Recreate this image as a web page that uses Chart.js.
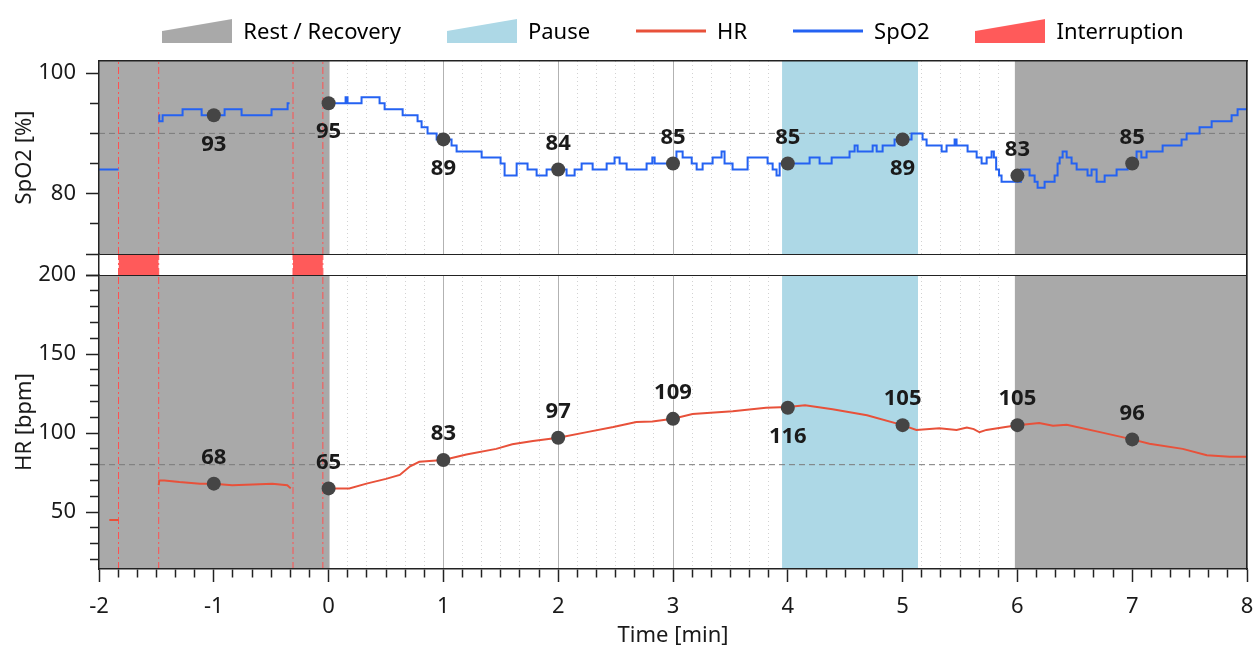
<!DOCTYPE html>
<html>
<head>
<meta charset="utf-8">
<title>SpO2 / HR</title>
<script src="https://cdn.jsdelivr.net/npm/chart.js@4.4.1/dist/chart.umd.min.js"></script>
<style>
  html, body { margin: 0; padding: 0; background: #fff; }
  #wrap { width: 1254px; height: 653px; }
</style>
</head>
<body>
<div id="wrap"><canvas id="chart"></canvas></div>
<script>
// all times in minutes, 0 = start of exercise
const restZones = [[-2, 0.01], [5.976, 8]];
const pauseZones = [[3.95, 5.135]];
const interruptions = [[-1.83, -1.48], [-0.31, -0.05]];

// SpO2 [%] as [minute, value], value holds until the next sample
const spo2Pre = [[-2, 84], [-1.83, 84]];
const spo2Rest = [[-1.48, 93], [-1.475, 92], [-1.446, 93], [-1.272, 94], [-1.106, 93], [-0.906, 94],
  [-0.758, 93], [-0.497, 94], [-0.357, 95], [-0.34, 95]];
const spo2Exercise = [[-0.04, 95], [0.148, 96], [0.165, 95], [0.287, 96], [0.444, 95], [0.488, 94],
  [0.645, 93], [0.775, 92], [0.81, 91], [0.862, 90], [0.941, 89], [1.071, 88], [1.115, 87], [1.333, 86],
  [1.498, 85], [1.533, 83], [1.638, 85], [1.733, 84], [1.812, 83], [1.899, 84], [2.073, 83], [2.143, 84],
  [2.204, 85], [2.3, 84], [2.422, 85], [2.491, 86], [2.535, 85], [2.596, 84], [2.77, 85], [2.82, 86],
  [2.84, 85], [3.03, 87], [3.084, 86], [3.163, 85], [3.206, 84], [3.258, 85], [3.345, 86], [3.423, 87],
  [3.449, 85], [3.519, 84], [3.65, 86], [3.824, 85], [3.868, 84], [3.902, 83], [3.929, 85], [4.19, 86],
  [4.277, 85], [4.382, 86], [4.538, 87], [4.582, 88], [4.608, 87], [4.739, 88], [4.774, 87], [4.826, 88],
  [4.93, 89], [5.078, 90], [5.174, 89], [5.209, 88], [5.34, 87], [5.383, 88], [5.453, 89], [5.47, 88],
  [5.566, 87], [5.645, 86], [5.688, 85], [5.732, 86], [5.775, 87], [5.795, 86], [5.815, 84], [5.84, 83],
  [5.862, 82], [6.03, 84], [6.106, 83], [6.15, 82], [6.176, 81], [6.237, 82], [6.324, 83], [6.35, 85],
  [6.368, 86], [6.394, 87], [6.429, 86], [6.472, 85], [6.516, 84], [6.611, 83], [6.646, 84], [6.69, 82],
  [6.76, 83], [6.864, 84], [6.96, 85], [7.038, 87], [7.08, 86], [7.125, 87], [7.265, 88], [7.43, 89],
  [7.474, 90], [7.587, 91], [7.692, 92], [7.866, 93], [7.918, 94], [8, 94]];

// HR [bpm] as [minute, value]
const hrPre = [[-1.91, 45], [-1.83, 45]];
const hrRest = [[-1.48, 67], [-1.475, 70], [-1.43, 70], [-1.3, 69], [-1.12, 68], [-1, 68], [-0.84, 67],
  [-0.66, 67.5], [-0.49, 68], [-0.36, 67], [-0.33, 65]];
const hrExercise = [[-0.04, 65], [0.18, 65], [0.33, 68], [0.5, 71], [0.62, 73.5], [0.71, 79], [0.79, 81.8],
  [1, 83], [1.2, 86.5], [1.46, 90], [1.6, 92.9], [1.78, 95], [2, 97], [2.25, 100.6], [2.48, 103.8],
  [2.68, 107], [2.82, 107.3], [3, 109], [3.17, 112], [3.52, 113.8], [3.81, 116], [4, 116.5], [4.15, 117.6],
  [4.39, 115], [4.69, 111.3], [5, 105], [5.12, 102], [5.32, 103], [5.47, 102], [5.56, 103.5], [5.62, 102.5],
  [5.67, 100.5], [5.73, 102], [5.91, 104], [6, 105], [6.19, 106.3], [6.31, 104.6], [6.43, 105.3],
  [6.72, 100.6], [7, 96], [7.15, 93.3], [7.44, 90], [7.65, 86], [7.85, 85], [8, 85]];

// once-a-minute markers
const markerMinutes = [-1, 0, 1, 2, 3, 4, 5, 6, 7];
const spo2Markers = [93, 95, 89, 84, 85, 85, 89, 83, 85];
const hrMarkers = [68, 65, 83, 97, 109, 116, 105, 105, 96];
const spo2LabelSide = ['below', 'below', 'below', 'above', 'above', 'above', 'below', 'above', 'above'];
const hrLabelSide = ['above', 'above', 'above', 'above', 'above', 'below', 'above', 'above', 'above'];

const spo2Baseline = 90;
const hrBaseline = 80;

// axes
const xRange = [-2, 8];
const xMinorPerMin = 6; // 10 s
const spo2Range = [70, 102];
const spo2Ticks = [75, 80, 85, 90, 95, 100];
const spo2Labels = [80, 100];
const hrRange = [14, 200];
const hrTicks = [20, 30, 40, 50, 60, 70, 80, 90, 100, 110, 120, 130, 140, 150, 160, 170, 180, 190, 200];
const hrLabels = [50, 100, 150, 200];

const legendNames = ['Rest / Recovery', 'Pause', 'HR', 'SpO2', 'Interruption'];

const GREY = '#a9a9a9';
const BLUE_BG = '#add8e6';
const HR_COLOR = '#e8513a';
const SPO2_COLOR = '#2462f2';
const RED = '#ff5a5a';
const FRAME = '#222';
const FONT = '"Noto Sans", sans-serif';
const FS = 22;

Chart.defaults.font.family = FONT;
Chart.defaults.font.size = FS;
Chart.defaults.color = '#1a1a1a';

const xTicks = [];
for (let k = 0; k <= (xRange[1] - xRange[0]) * xMinorPerMin; k++) xTicks.push(xRange[0] + k / xMinorPerMin);
const isWhole = (v) => Math.abs(v - Math.round(v)) < 1e-6;

const toPoints = (segments) => {
  const out = [];
  segments.forEach((seg, i) => {
    if (i > 0) out.push({ x: seg[0][0], y: null });
    seg.forEach(([x, y]) => out.push({ x, y }));
  });
  return out;
};

const panelRange = { ySpo2: spo2Range, yStrip: [0, 1], yHr: hrRange };

const block = (axis, from, to, color, order) => ({
  yAxisID: axis,
  data: [{ x: from, y: panelRange[axis][1] }, { x: to, y: panelRange[axis][1] }],
  fill: 'start',
  backgroundColor: color,
  borderColor: 'transparent',
  borderWidth: 0,
  pointRadius: 0,
  order: order,
});

const vline = (axis, at) => ({
  yAxisID: axis,
  data: [{ x: at, y: panelRange[axis][0] }, { x: at, y: panelRange[axis][1] }],
  borderColor: '#ff5050',
  borderWidth: 1,
  borderDash: [7, 3, 2, 3],
  pointRadius: 0,
  order: 3,
});

const hline = (axis, value) => ({
  yAxisID: axis,
  data: [{ x: xRange[0], y: value }, { x: xRange[1], y: value }],
  borderColor: '#7a7a7a',
  borderWidth: 1,
  borderDash: [6, 4],
  pointRadius: 0,
  order: 2,
});

const markers = (axis, values, sides) => ({
  yAxisID: axis,
  data: markerMinutes.map((m, i) => ({ x: m, y: values[i] })),
  labelSides: sides,
  showLine: false,
  pointRadius: 7,
  pointHoverRadius: 7,
  pointBackgroundColor: '#454545',
  pointBorderWidth: 0,
  order: 0,
});

const datasets = [
  markers('ySpo2', spo2Markers, spo2LabelSide),
  markers('yHr', hrMarkers, hrLabelSide),
  { yAxisID: 'ySpo2', data: toPoints([spo2Pre, spo2Rest, spo2Exercise]), borderColor: SPO2_COLOR,
    borderWidth: 2, stepped: 'before', pointRadius: 0, order: 1 },
  { yAxisID: 'yHr', data: toPoints([hrPre, hrRest, hrExercise]), borderColor: HR_COLOR,
    borderWidth: 2, tension: 0, pointRadius: 0, order: 1 },
  hline('ySpo2', spo2Baseline),
  hline('yHr', hrBaseline),
];
interruptions.forEach(([a, b]) => {
  ['ySpo2', 'yStrip', 'yHr'].forEach((ax) => { datasets.push(vline(ax, a), vline(ax, b)); });
  datasets.push(block('yStrip', a, b, RED, 4));
});
['ySpo2', 'yHr'].forEach((ax) => {
  restZones.forEach(([a, b]) => datasets.push(block(ax, a, b, GREY, 5)));
  pauseZones.forEach(([a, b]) => datasets.push(block(ax, a, b, BLUE_BG, 5)));
});
datasets.push(block('yStrip', xRange[0], xRange[1], '#ffffff', 6));

// legend icons; 4px spare at the bottom lifts the icon a little against the text
function wedgeIcon(color) {
  const c = document.createElement('canvas');
  c.width = 70; c.height = 28;
  const g = c.getContext('2d');
  g.fillStyle = color;
  g.beginPath();
  g.moveTo(0, 12); g.lineTo(70, 0); g.lineTo(70, 24); g.lineTo(0, 24);
  g.closePath();
  g.fill();
  return c;
}
function lineIcon(color) {
  const c = document.createElement('canvas');
  c.width = 70; c.height = 28;
  const g = c.getContext('2d');
  g.fillStyle = color;
  g.fillRect(0, 10.5, 70, 3);
  return c;
}
const legendIcons = [wedgeIcon(GREY), wedgeIcon(BLUE_BG), lineIcon(HR_COLOR), lineIcon(SPO2_COLOR), wedgeIcon(RED)];

const pointLabels = {
  id: 'pointLabels',
  afterDatasetsDraw(chart) {
    const ctx = chart.ctx;
    chart.data.datasets.forEach((ds, i) => {
      if (!ds.labelSides) return;
      const meta = chart.getDatasetMeta(i);
      ctx.save();
      ctx.font = 'bold ' + FS + 'px ' + FONT;
      ctx.fillStyle = '#1a1a1a';
      ctx.textAlign = 'center';
      ctx.textBaseline = 'middle';
      meta.data.forEach((pt, j) => {
        const dy = ds.labelSides[j] === 'above' ? -26 : 29;
        ctx.fillText(String(ds.data[j].y), pt.x, pt.y + dy);
      });
      ctx.restore();
    });
  },
};

const yAxis = (range, ticks, labels, title, weight) => ({
  type: 'linear',
  position: 'left',
  stack: 'panels',
  stackWeight: weight,
  min: range[0],
  max: range[1],
  afterBuildTicks: (s) => { s.ticks = ticks.map((v) => ({ value: v })); },
  afterFit: (s) => { s.width = 99; },
  ticks: {
    autoSkip: false,
    padding: 10,
    font: { size: FS },
    callback: (v) => (labels.includes(v) ? String(v) : ''),
  },
  grid: {
    drawOnChartArea: false,
    tickLength: 13,
    tickColor: FRAME,
    tickWidth: 1.5,
    tickBorderDash: (c) => (labels.includes(c.tick.value) ? [] : [0, 4, 10, 0]),
  },
  border: { color: FRAME, width: 1.5, z: 1 },
  title: { display: !!title, text: title, padding: { top: 12, bottom: 4 }, font: { size: FS } },
});

const stripAxis = {
  type: 'linear',
  position: 'left',
  stack: 'panels',
  stackWeight: 21,
  min: 0,
  max: 1,
  afterBuildTicks: (s) => { s.ticks = [{ value: 0 }, { value: 1 }]; },
  afterFit: (s) => { s.width = 99; },
  ticks: { display: false },
  grid: { drawOnChartArea: true, color: FRAME, lineWidth: 1, tickLength: 13, tickColor: FRAME, tickWidth: 1.5, z: 1 },
  border: { color: FRAME, width: 1.5, z: 1 },
};

new Chart(document.getElementById('chart'), {
  type: 'line',
  data: { datasets },
  plugins: [pointLabels],
  options: {
    responsive: true,
    maintainAspectRatio: false,
    animation: false,
    events: [],
    layout: { padding: { top: -24, right: 7, bottom: 0, left: 0 } },
    scales: {
      x: {
        type: 'linear',
        position: 'bottom',
        min: xRange[0],
        max: xRange[1],
        afterBuildTicks: (s) => { s.ticks = xTicks.map((v) => ({ value: v })); },
        afterFit: (s) => { s.height = 84; s.paddingLeft = 0; s.paddingRight = 0; },
        ticks: {
          autoSkip: false,
          maxRotation: 0,
          padding: 12,
          font: { size: FS },
          callback: (v) => (isWhole(v) ? String(Math.round(v)) : ''),
        },
        grid: {
          color: (c) => (isWhole(c.tick.value) ? '#b2b2b2' : '#d2d2d2'),
          lineWidth: 1,
          tickLength: 13,
          tickColor: FRAME,
          tickWidth: 1.5,
          tickBorderDash: (c) => (isWhole(c.tick.value) ? [] : [8, 30]),
        },
        border: {
          color: FRAME,
          width: 1.5,
          z: 1,
          dash: (c) => (c.tick && !isWhole(c.tick.value) ? [1, 3] : []),
        },
        title: { display: true, text: 'Time [min]', padding: { top: 4, bottom: 4 }, font: { size: FS } },
      },
      xTop: {
        type: 'linear',
        position: 'top',
        min: xRange[0],
        max: xRange[1],
        afterFit: (s) => { s.height = 7; },
        ticks: { display: false },
        grid: { display: false, drawTicks: false },
        border: { color: FRAME, width: 1.5, z: 1 },
      },
      yHr: yAxis(hrRange, hrTicks, hrLabels, 'HR [bpm]', 294),
      yStrip: stripAxis,
      ySpo2: yAxis(spo2Range, spo2Ticks, spo2Labels, 'SpO2 [%]', 193),
      yRight: {
        type: 'linear',
        position: 'right',
        min: 0,
        max: 1,
        afterFit: (s) => { s.width = 0; },
        ticks: { display: false },
        grid: { display: false, drawTicks: false },
        border: { color: FRAME, width: 1.5, z: 1 },
      },
    },
    plugins: {
      tooltip: { enabled: false },
      legend: {
        position: 'top',
        fullSize: false,
        onClick: null,
        labels: {
          usePointStyle: true,
          pointStyleWidth: 70,
          padding: 46,
          font: { size: FS },
          color: '#1a1a1a',
          generateLabels: () => legendNames.map((name, i) => ({
            text: name,
            pointStyle: legendIcons[i],
            fillStyle: 'transparent',
            strokeStyle: 'transparent',
            lineWidth: 0,
            hidden: false,
            datasetIndex: i,
          })),
        },
      },
    },
  },
});
</script>
</body>
</html>
